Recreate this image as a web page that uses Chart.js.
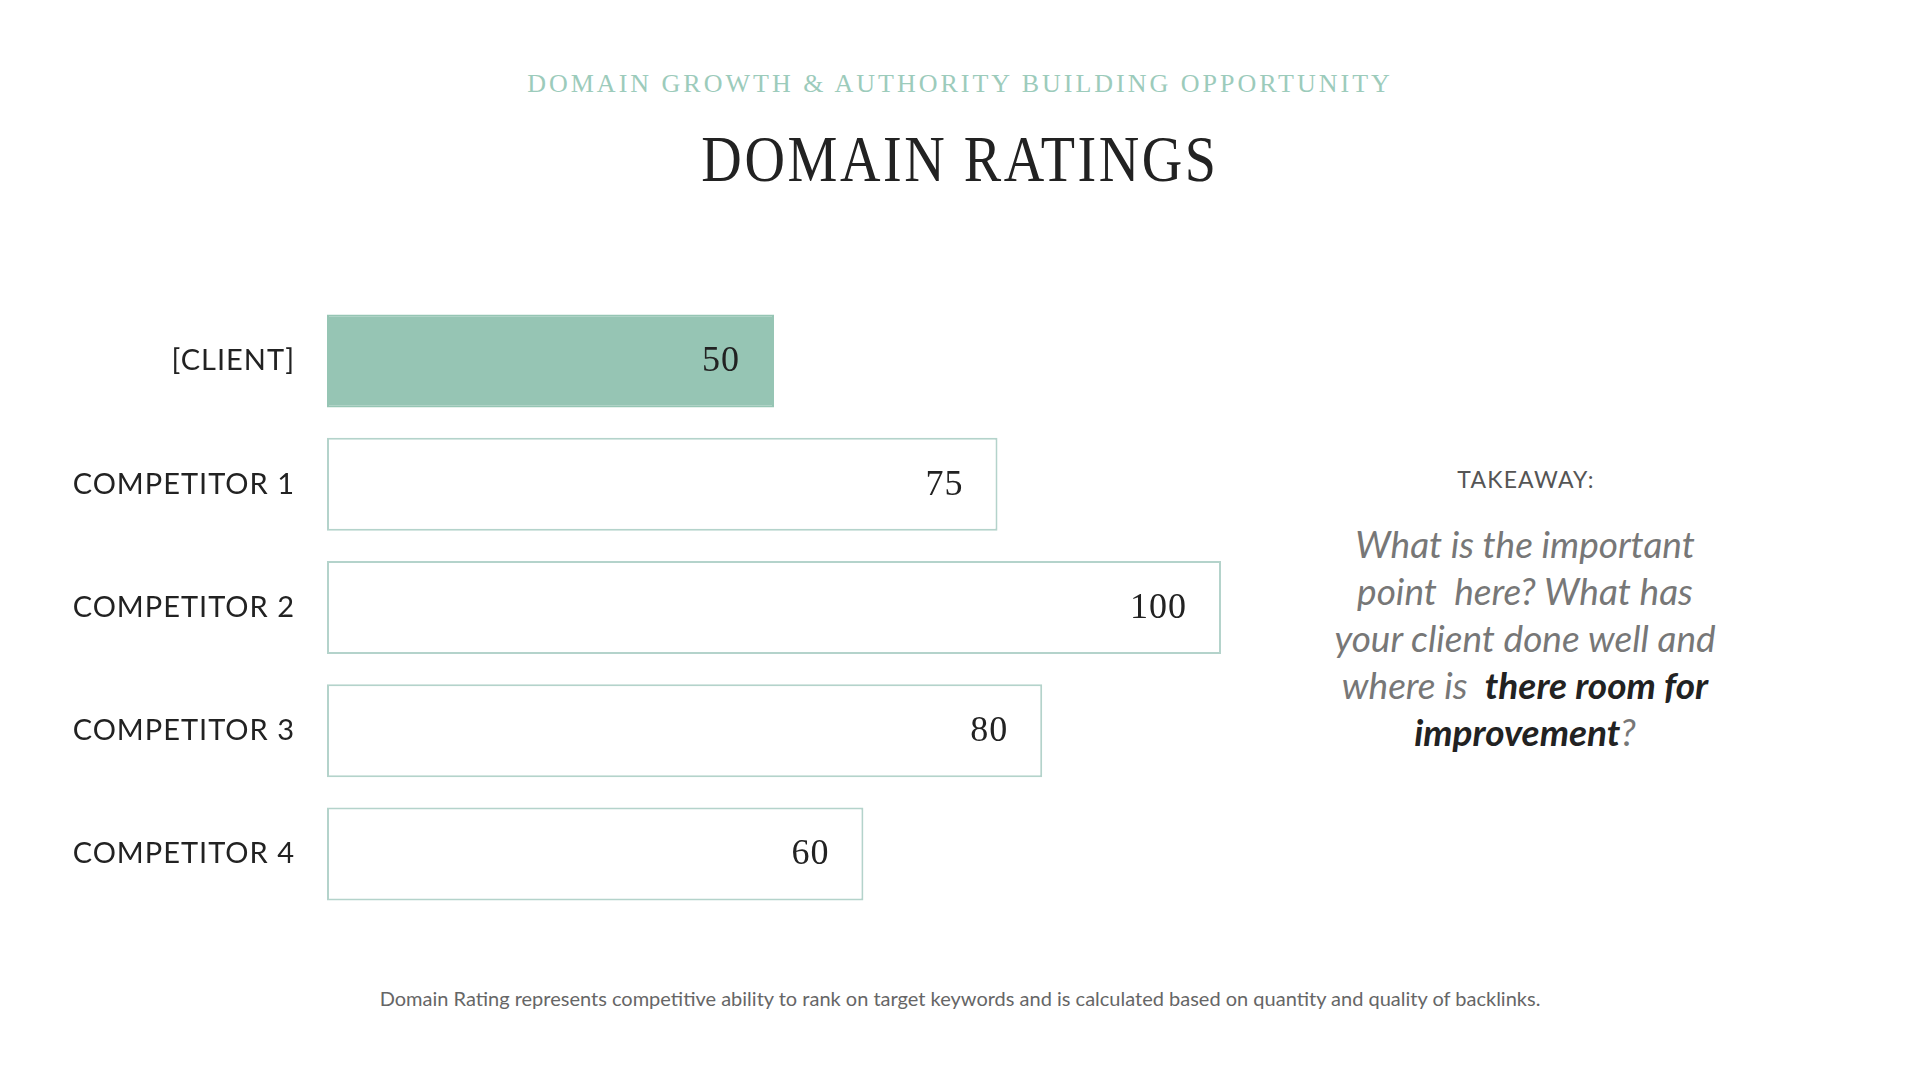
<!DOCTYPE html>
<html>
<head>
<meta charset="utf-8">
<script src="https://cdn.jsdelivr.net/npm/chart.js@4"></script>
<style>
  html, body { margin: 0; padding: 0; background: #ffffff; }
  body { width: 1920px; height: 1080px; position: relative; overflow: hidden; }
  .subtitle {
    position: absolute; left: 0; width: 1920px; top: 69px; text-align: center;
    font-family: "Liberation Serif", serif; font-size: 26px; letter-spacing: 3px;
    color: #9ccbbb;
  }
  .title {
    position: absolute; left: 0; width: 1920px; top: 121px; text-align: center;
    font-family: "Liberation Serif", serif; font-size: 66px; letter-spacing: 3px;
    color: #222222; transform: scaleX(0.85);
  }
  #chartBox { position: absolute; left: 0; top: 250px; width: 1260px; height: 715px; }
  .takeaway-head {
    position: absolute; left: 1326px; width: 400px; top: 465px; text-align: center;
    font-family: "Lato", sans-serif; font-size: 23px; letter-spacing: 1.2px; color: #555555;
  }
  .takeaway {
    position: absolute; left: 1280px; width: 490px; top: 520px; text-align: center;
    font-family: "Lato", sans-serif; font-style: italic; font-size: 37px; line-height: 47px;
    color: #777777;
  }
  .takeaway b { color: #222222; }
  .note {
    position: absolute; left: 0; width: 1920px; top: 986px; text-align: center;
    font-family: "Lato", sans-serif; font-size: 20px; color: #666666;
  }
</style>
</head>
<body>
<div class="subtitle">DOMAIN GROWTH &amp; AUTHORITY BUILDING OPPORTUNITY</div>
<div class="title">DOMAIN RATINGS</div>
<div id="chartBox"><canvas id="chart" width="1260" height="715"></canvas></div>
<div class="takeaway-head">TAKEAWAY:</div>
<div class="takeaway">What is the important<br>point&nbsp; here? What has<br>your client done well and<br>where is&nbsp; <b>there room for<br>improvement</b>?</div>
<div class="note">Domain Rating represents competitive ability to rank on target keywords and is calculated based on quantity and quality of backlinks.</div>

<script>
// Chart data
const categories = ["[CLIENT]", "COMPETITOR 1", "COMPETITOR 2", "COMPETITOR 3", "COMPETITOR 4"];
const ratings = [50, 75, 100, 80, 60];
const axisMax = 100;

const teal = "#96c5b4";
const outline = "#b4d3cb";

// Draw the value inside each bar, near its right end
const valueLabels = {
    id: "valueLabels",
    afterDatasetsDraw(chart) {
        const ctx = chart.ctx;
        const meta = chart.getDatasetMeta(0);
        ctx.save();
        ctx.font = "36px 'Liberation Serif', serif";
        ctx.fillStyle = "#222222";
        ctx.textAlign = "right";
        ctx.textBaseline = "middle";
        meta.data.forEach((bar, i) => {
            ctx.fillText(String(ratings[i]), bar.x - 34, bar.y + 1);
        });
        ctx.restore();
    }
};

// Letter spacing for the category labels
const spacing = {
    id: "spacing",
    beforeDraw(chart) { chart.ctx.letterSpacing = "1px"; },
    afterDraw(chart) { chart.ctx.letterSpacing = "0px"; }
};

new Chart(document.getElementById("chart").getContext("2d"), {
    type: "bar",
    data: {
        labels: categories,
        datasets: [{
            data: ratings,
            backgroundColor: ratings.map((v, i) => i === 0 ? teal : "#ffffff"),
            borderColor: ratings.map((v, i) => i === 0 ? teal : outline),
            borderWidth: 2,
            borderSkipped: false,
            barPercentage: 0.756,
            categoryPercentage: 1
        }]
    },
    options: {
        indexAxis: "y",
        responsive: false,
        animation: false,
        layout: { padding: { left: 0, right: 39, top: 20, bottom: 25 } },
        scales: {
            x: {
                min: 0,
                max: axisMax,
                display: false
            },
            y: {
                grid: { display: false, drawTicks: false },
                border: { display: false },
                ticks: {
                    padding: 32,
                    color: "#222222",
                    font: { family: "Lato, sans-serif", size: 29 }
                },
                afterFit(scale) { scale.width = 327; }
            }
        },
        plugins: {
            legend: { display: false },
            tooltip: { enabled: false }
        }
    },
    plugins: [valueLabels, spacing]
});
</script>
</body>
</html>
